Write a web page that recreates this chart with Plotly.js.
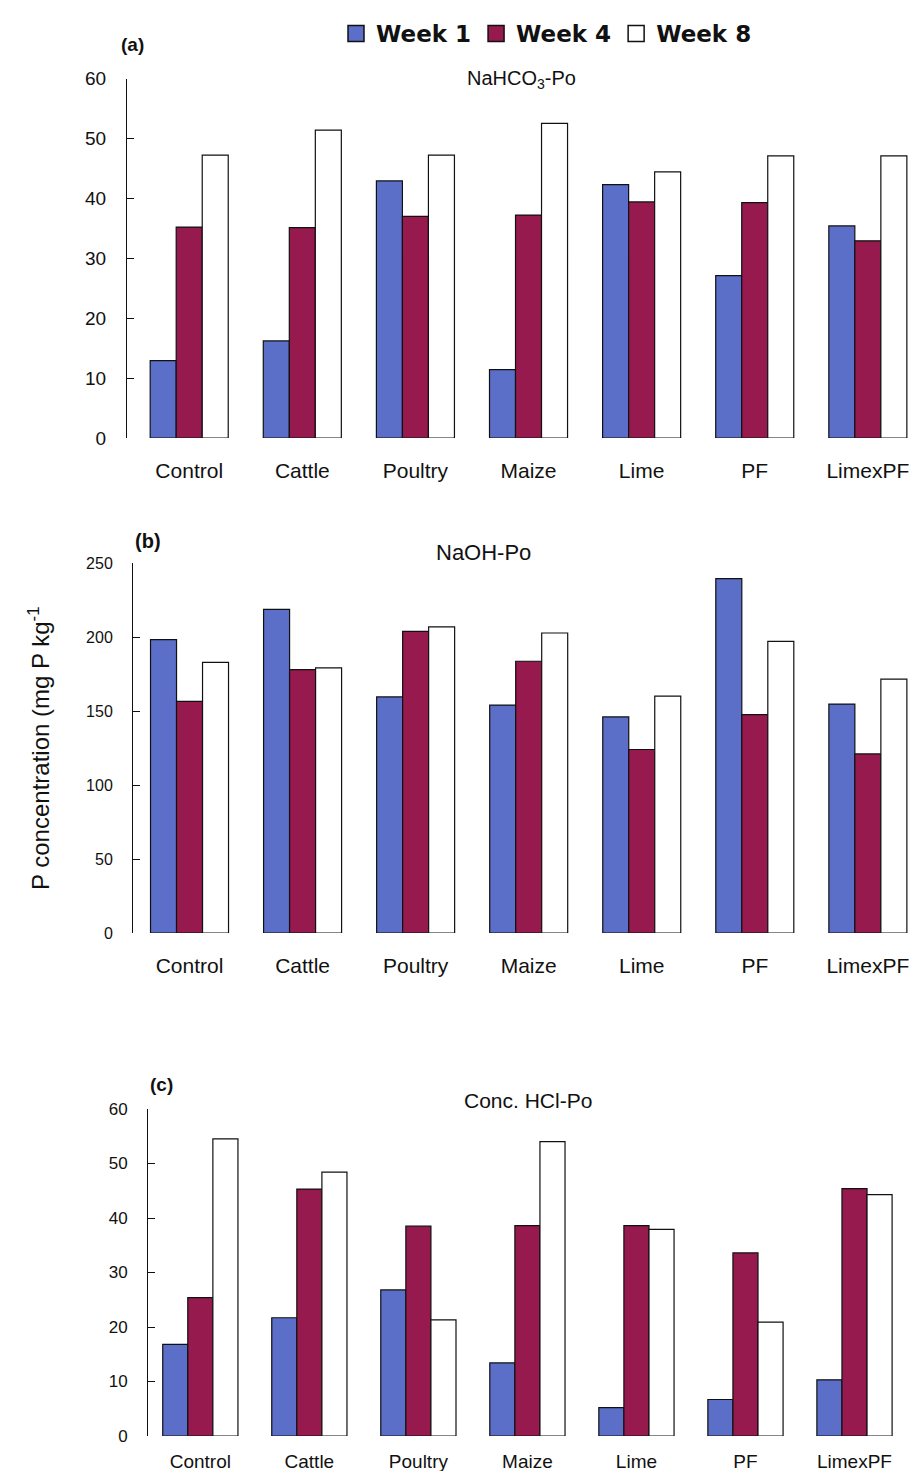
<!DOCTYPE html>
<html>
<head>
<meta charset="utf-8">
<script src="https://cdn.plot.ly/plotly-3.0.1.min.js"></script>
<style>html,body{margin:0;padding:0;background:#fff}#chart{width:921px;height:1471px}</style>
</head>
<body>
<div id="chart"></div>
<script>
const categories = ['Control','Cattle','Poultry','Maize','Lime','PF','LimexPF'];
const seriesNames = ['Week 1','Week 4','Week 8'];

const nahco3Week1 = [12.9, 16.2, 42.9, 11.4, 42.3, 27.1, 35.4];
const nahco3Week4 = [35.2, 35.1, 37.0, 37.2, 39.4, 39.3, 32.9];
const nahco3Week8 = [47.2, 51.4, 47.2, 52.5, 44.4, 47.1, 47.1];

const naohWeek1 = [198.2, 218.7, 159.5, 154.0, 146.0, 239.4, 154.7];
const naohWeek4 = [156.5, 177.9, 203.8, 183.6, 124.0, 147.5, 121.0];
const naohWeek8 = [182.9, 179.1, 206.8, 202.7, 160.0, 197.0, 171.6];

const hclWeek1 = [16.8, 21.7, 26.8, 13.4, 5.2, 6.7, 10.3];
const hclWeek4 = [25.4, 45.3, 38.5, 38.6, 38.6, 33.6, 45.4];
const hclWeek8 = [54.5, 48.4, 21.3, 54.0, 37.9, 20.9, 44.3];

const W = 921, H = 1471;
const colors = ['#5b6ec8', '#961a4d', '#ffffff'];
const px = v => v / W;
const py = v => 1 - v / H;

const panels = [
  {data: [nahco3Week1, nahco3Week4, nahco3Week8], xa: 'x', ya: 'y'},
  {data: [naohWeek1, naohWeek4, naohWeek8], xa: 'x2', ya: 'y2'},
  {data: [hclWeek1, hclWeek4, hclWeek8], xa: 'x3', ya: 'y3'}
];

const traces = [];
panels.forEach((p, pi) => {
  p.data.forEach((vals, si) => {
    traces.push({
      type: 'bar',
      x: categories,
      y: vals,
      name: seriesNames[si],
      xaxis: p.xa,
      yaxis: p.ya,
      showlegend: false,
      legendgroup: seriesNames[si],
      marker: {color: colors[si], line: {color: '#111', width: 1.2}},
      hoverinfo: 'x+y+name'
    });
  });
});
// legend entries (large square swatches like the reference key)
seriesNames.forEach((nm, si) => {
  traces.push({
    type: 'scatter', mode: 'markers', x: [null], y: [null], name: nm,
    xaxis: 'x', yaxis: 'y', legendgroup: nm, showlegend: true,
    marker: {symbol: 'square', size: 17, color: colors[si], line: {color: '#111', width: 1.5}},
    hoverinfo: 'skip'
  });
});

function xAxis(d0, d1, r0, r1, fs, standoff, anchor) {
  return {
    domain: [px(d0), px(d1)], anchor: anchor, type: 'category',
    range: [r0, r1], showline: false, showgrid: false, zeroline: false,
    ticks: '', ticklabelstandoff: standoff,
    tickfont: {family: 'Liberation Sans, Arial, sans-serif', size: fs, color: '#111'}
  };
}
function yAxis(top, bottom, rmax, dtick, fs, anchor) {
  return {
    domain: [py(bottom), py(top)], anchor: anchor,
    range: [0, rmax], dtick: dtick, tick0: 0,
    showline: true, linecolor: '#111', linewidth: 1,
    ticks: 'inside', ticklen: 7, tickcolor: '#111', tickwidth: 1,
    showgrid: false, zeroline: false, ticklabelstandoff: 16,
    tickfont: {family: 'Liberation Sans, Arial, sans-serif', size: fs, color: '#111'}
  };
}

function ann(text, x, y, size, extra) {
  return Object.assign({
    text: text, x: px(x), y: py(y), xref: 'paper', yref: 'paper', showarrow: false,
    xanchor: 'center', yanchor: 'middle',
    font: {family: 'Liberation Sans, Arial, sans-serif', size: size, color: '#111'}
  }, extra || {});
}

const layout = {
  width: W, height: H,
  margin: {l: 0, r: 0, t: 0, b: 0},
  paper_bgcolor: '#fff', plot_bgcolor: '#fff',
  barmode: 'group', bargap: 0.31, bargroupgap: 0,
  showlegend: true,
  legend: {
    orientation: 'h', x: px(336), y: py(12), xanchor: 'left', yanchor: 'top',
    font: {family: 'DejaVu Sans, sans-serif', size: 23, color: '#111', weight: 'bold'},
    itemsizing: 'trace', itemwidth: 30, tracegroupgap: 0, bgcolor: 'rgba(0,0,0,0)'
  },
  xaxis: xAxis(127, 921, -0.55, 6.47, 21, 18, 'y'),
  yaxis: yAxis(78.5, 438, 60, 10, 19, 'x'),
  xaxis2: xAxis(133, 921, -0.5, 6.47, 21, 18, 'y2'),
  yaxis2: yAxis(563, 933, 250, 50, 16, 'x2'),
  xaxis3: xAxis(148, 921, -0.48, 6.61, 19, 12, 'y3'),
  yaxis3: yAxis(1109, 1436, 60, 10, 17, 'x3'),
  annotations: [
    ann('NaHCO<sub>3</sub>-Po', 521, 79, 20),
    ann('NaOH-Po', 483, 552, 22),
    ann('Conc. HCl-Po', 528, 1100, 21),
    ann('<b>(a)</b>', 132, 45, 19),
    ann('<b>(b)</b>', 148, 541, 20),
    ann('<b>(c)</b>', 161, 1084, 19),
    ann('P concentration (mg P kg<sup>-1</sup>', 39, 748, 24, {textangle: -90})
  ]
};

Plotly.newPlot('chart', traces, layout, {displayModeBar: false, staticPlot: true});
</script>
</body>
</html>
